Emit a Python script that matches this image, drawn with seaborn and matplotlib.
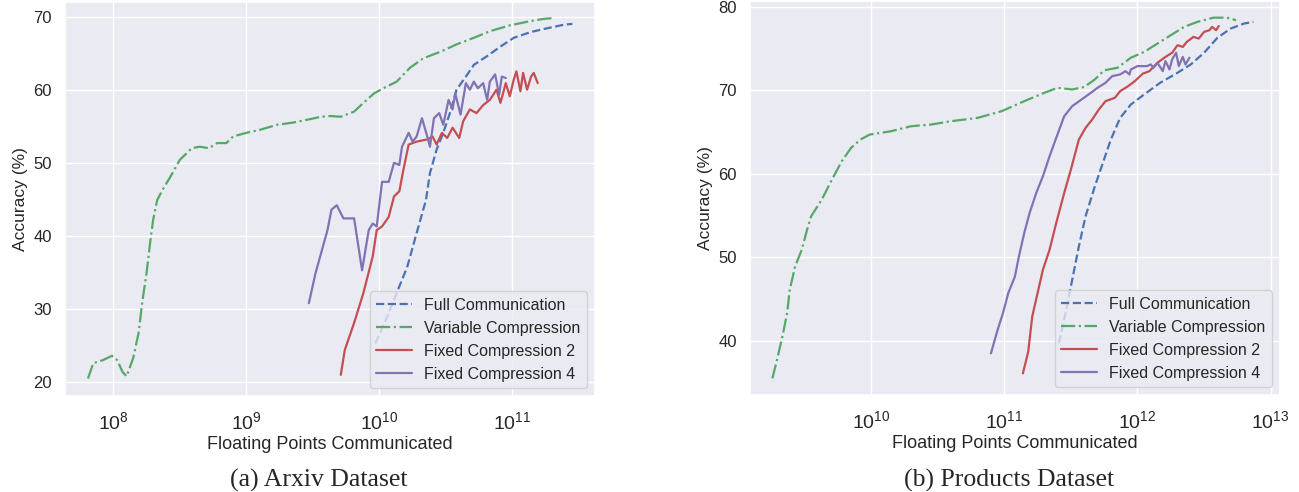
import numpy as np
import pandas as pd
import matplotlib
matplotlib.use("Agg")
import matplotlib.pyplot as plt
import seaborn as sns

# values; x given as log10 of floating points communicated
arxiv_full_x = [9.97, 10.06, 10.13, 10.21, 10.28, 10.35, 10.38, 10.43, 10.48, 10.53, 10.58, 10.65,
                10.71, 10.81, 10.91, 11.01, 11.14, 11.26, 11.39, 11.45]
arxiv_full_y = [25.3, 29.0, 32.2, 35.8, 40.4, 44.9, 48.6, 51.8, 54.1, 56.8, 60.0, 61.8,
                63.4, 64.6, 65.9, 67.1, 67.9, 68.4, 68.9, 69.0]

arxiv_var_x = [7.81, 7.85, 7.92, 7.99, 8.03, 8.07, 8.10, 8.15, 8.19, 8.22, 8.25, 8.28, 8.30, 8.33,
               8.37, 8.43, 8.50, 8.59, 8.65, 8.72, 8.78, 8.85, 8.90, 9.00, 9.10, 9.23, 9.35, 9.46,
               9.56, 9.63, 9.71, 9.81, 9.88, 9.96, 10.03, 10.13, 10.23, 10.33, 10.46, 10.58, 10.71,
               10.83, 10.98, 11.14, 11.24, 11.31]
arxiv_var_y = [20.5, 22.6, 23.0, 23.6, 23.0, 21.4, 20.8, 23.3, 26.7, 31.2, 34.9, 39.5, 42.2, 44.9,
               46.3, 48.1, 50.4, 52.0, 52.2, 52.0, 52.7, 52.7, 53.6, 54.1, 54.5, 55.2, 55.5, 55.9,
               56.3, 56.4, 56.3, 57.0, 58.2, 59.5, 60.2, 61.1, 63.0, 64.3, 65.2, 66.2, 67.1,
               68.0, 68.8, 69.4, 69.7, 69.8]

arxiv_fix2_x = [9.71, 9.74, 9.81, 9.88, 9.95, 9.98, 10.02, 10.07, 10.11, 10.15, 10.18, 10.22, 10.28,
                10.36, 10.40, 10.43, 10.47, 10.51, 10.55, 10.60, 10.63, 10.68, 10.73, 10.78, 10.83,
                10.88, 10.91, 10.95, 10.98, 11.01, 11.03, 11.06, 11.08, 11.11, 11.14, 11.16, 11.19]
arxiv_fix2_y = [21.0, 24.4, 28.1, 32.2, 37.2, 40.8, 41.3, 42.6, 45.4, 46.1, 49.0, 52.5, 52.9,
                53.2, 53.6, 52.5, 54.1, 53.4, 54.8, 53.4, 55.7, 57.3, 56.8, 57.9, 58.6,
                60.0, 58.2, 60.9, 59.1, 61.4, 62.5, 59.8, 62.3, 60.0, 61.8, 62.3, 60.9]

arxiv_fix4_x = [9.47, 9.52, 9.61, 9.64, 9.68, 9.71, 9.73, 9.81, 9.87, 9.92, 9.95, 9.98, 10.02, 10.07,
                10.11, 10.15, 10.17, 10.22, 10.25, 10.28, 10.32, 10.36, 10.38, 10.41, 10.45, 10.48,
                10.52, 10.55, 10.57, 10.61, 10.65, 10.68, 10.71, 10.74, 10.78, 10.81, 10.83, 10.87,
                10.90, 10.92, 10.95]
arxiv_fix4_y = [30.8, 34.9, 40.8, 43.6, 44.2, 43.1, 42.4, 42.4, 35.3, 40.8, 41.7, 41.3, 47.4, 47.4,
                50.0, 49.7, 52.2, 54.1, 52.9, 53.6, 56.1, 53.6, 52.2, 56.1, 56.8, 55.2,
                58.6, 57.3, 59.5, 56.6, 60.9, 60.0, 61.1, 60.2, 60.9, 58.6, 61.1, 62.1,
                59.3, 61.8, 61.6]

prod_full_x = [11.41, 11.46, 11.51, 11.56, 11.61, 11.68, 11.74, 11.80, 11.87, 11.95, 12.05, 12.17,
               12.30, 12.40, 12.50, 12.60, 12.70, 12.80, 12.87]
prod_full_y = [39.7, 43.3, 47.3, 51.3, 54.9, 58.5, 61.3, 64.1, 66.7, 68.3, 69.5, 70.9,
               72.1, 73.1, 74.5, 76.3, 77.4, 78.0, 78.2]

prod_var_x = [9.26, 9.30, 9.34, 9.37, 9.39, 9.43, 9.48, 9.52, 9.55, 9.63, 9.70, 9.78, 9.85, 9.92,
              9.99, 10.15, 10.30, 10.45, 10.60, 10.80, 10.98, 11.15, 11.30, 11.40, 11.51, 11.60,
              11.68, 11.75, 11.85, 11.95, 12.05, 12.15, 12.25, 12.35, 12.45, 12.57, 12.67, 12.74]
prod_var_y = [35.5, 38.1, 40.9, 43.3, 46.1, 48.9, 50.9, 53.3, 54.9, 56.9, 59.1, 61.5, 63.1, 64.1,
              64.7, 65.1, 65.7, 65.9, 66.3, 66.7, 67.5, 68.7, 69.7, 70.3, 70.1, 70.4,
              71.3, 72.4, 72.7, 73.9, 74.6, 75.6, 76.6, 77.6, 78.2, 78.7, 78.7, 78.4]

prod_fix2_x = [11.14, 11.18, 11.21, 11.25, 11.29, 11.34, 11.39, 11.45, 11.50, 11.56, 11.61, 11.66,
               11.71, 11.76, 11.83, 11.87, 11.93, 11.98, 12.04, 12.09, 12.15, 12.21, 12.26, 12.30,
               12.34, 12.37, 12.42, 12.46, 12.50, 12.54, 12.56, 12.59, 12.61]
prod_fix2_y = [36.1, 38.7, 42.9, 45.7, 48.5, 50.9, 54.1, 57.7, 60.5, 64.1, 65.5, 66.5,
               67.7, 68.7, 69.1, 69.9, 70.5, 71.1, 72.0, 72.3, 73.3, 74.0, 74.5, 75.4,
               75.2, 75.8, 76.4, 76.2, 77.0, 77.2, 77.6, 77.2, 77.7]

prod_fix4_x = [10.90, 10.95, 10.99, 11.03, 11.08, 11.11, 11.15, 11.19, 11.24, 11.29, 11.34, 11.39,
               11.45, 11.51, 11.58, 11.65, 11.70, 11.76, 11.81, 11.87, 11.91, 11.94, 11.95, 12.00,
               12.07, 12.10, 12.12, 12.15, 12.19, 12.21, 12.24, 12.26, 12.29, 12.31, 12.34, 12.36,
               12.39]
prod_fix4_y = [38.5, 41.3, 43.3, 45.7, 47.7, 50.1, 52.9, 55.3, 57.7, 59.7, 62.1, 64.3,
               66.9, 68.1, 68.9, 69.7, 70.3, 70.9, 71.7, 71.9, 72.3, 71.9, 72.5, 72.9,
               72.9, 73.1, 72.7, 73.3, 72.3, 73.5, 72.5, 73.7, 74.5, 72.9, 74.0, 73.1,
               73.9]

labels = ["Full Communication", "Variable Compression", "Fixed Compression 2", "Fixed Compression 4"]
captions = ["(a) Arxiv Dataset", "(b) Products Dataset"]

sns.set_theme(style="darkgrid")
plt.rcParams['font.family'] = ['Liberation Sans', 'DejaVu Sans']
plt.rcParams['mathtext.fontset'] = 'custom'
plt.rcParams['mathtext.rm'] = 'Liberation Sans'
plt.rcParams['mathtext.it'] = 'Liberation Sans'

pal = sns.color_palette("deep")
styles = [(pal[0], "--"), (pal[2], "-."), (pal[3], "-"), (pal[4], "-")]

fig = plt.figure(figsize=(12.99, 4.92), dpi=100)
ax1 = fig.add_axes([0.050, 0.195, 0.408, 0.801])
ax2 = fig.add_axes([0.5774, 0.197, 0.408, 0.801])

panels = [
    (ax1, [(arxiv_full_x, arxiv_full_y), (arxiv_var_x, arxiv_var_y),
           (arxiv_fix2_x, arxiv_fix2_y), (arxiv_fix4_x, arxiv_fix4_y)]),
    (ax2, [(prod_full_x, prod_full_y), (prod_var_x, prod_var_y),
           (prod_fix2_x, prod_fix2_y), (prod_fix4_x, prod_fix4_y)]),
]

for ax, series in panels:
    for (xs, ys), lab, (col, ls) in zip(series, labels, styles):
        df = pd.DataFrame({"flops": 10 ** np.array(xs), "acc": ys})
        sns.lineplot(data=df, x="flops", y="acc", ax=ax, color=col, linestyle=ls,
                     linewidth=1.6, label=lab, sort=False, estimator=None)
    ax.set_xscale("log")
    ax.set_xlabel("Floating Points Communicated", fontsize=13, labelpad=2)
    ax.set_ylabel("Accuracy (%)", fontsize=12.5)
    ax.tick_params(axis="y", labelsize=12)
    ax.tick_params(axis="x", labelsize=14, pad=5)
    ax.legend(loc="lower right", fontsize=11.5, handlelength=2.2)

ax1.set_xlim(10 ** 7.637, 10 ** 11.62)
ax1.set_ylim(18.1, 72.0)
ax1.set_yticks([20, 30, 40, 50, 60, 70])
ax2.set_xlim(10 ** 9.092, 10 ** 13.07)
ax2.set_ylim(33.5, 80.7)
ax2.set_yticks([40, 50, 60, 70, 80])

fig.text(0.2456, 0.012, captions[0], ha="center", va="baseline", fontsize=18.5, family="Liberation Serif")
fig.text(0.777, 0.012, captions[1], ha="center", va="baseline", fontsize=18.5, family="Liberation Serif")

fig.savefig("out.png", dpi=100)
